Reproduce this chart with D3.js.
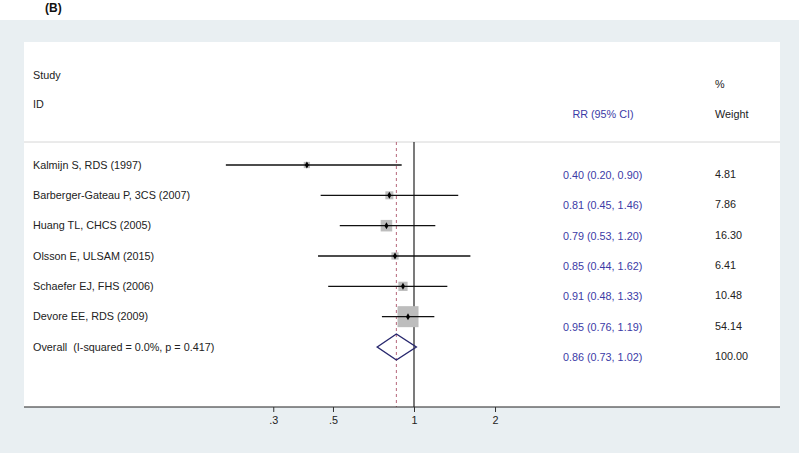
<!DOCTYPE html>
<html><head><meta charset="utf-8">
<script src="https://cdn.jsdelivr.net/npm/d3@7"></script>
<style>body{margin:0;background:#fff}svg{display:block;font-family:"Liberation Sans",Arial,sans-serif}text{white-space:pre}</style>
</head><body><svg id="c" width="799" height="453"></svg>
<script>
const studies = ["Kalmijn S, RDS (1997)","Barberger-Gateau P, 3CS (2007)","Huang TL, CHCS (2005)","Olsson E, ULSAM (2015)","Schaefer EJ, FHS (2006)","Devore EE, RDS (2009)"];
const rr = [0.40,0.81,0.79,0.85,0.91,0.95];
const lower = [0.20,0.45,0.53,0.44,0.48,0.76];
const upper = [0.90,1.46,1.20,1.62,1.33,1.19];
const weights = [4.81,7.86,16.30,6.41,10.48,54.14];
const overallLabel = "Overall  (I-squared = 0.0%, p = 0.417)";
const overall = {rr:0.86, lo:0.73, hi:1.02, w:100.00};
const tickValues = [0.3,0.5,1,2];
const tickLabels = [".3",".5","1","2"];

const svg = d3.select("#c");
svg.append("rect").attr("x",0).attr("y",20).attr("width",799).attr("height",433).attr("fill","#e9eff2");
svg.append("rect").attr("x",24).attr("y",42).attr("width",756).attr("height",365).attr("fill","#ffffff");
svg.append("text").attr("x",45).attr("y",12).attr("font-size",12).attr("font-weight","bold").attr("fill","#111").text("(B)");

const x = d3.scaleLog().domain([1/Math.E, Math.E]).range([414-116.9, 414+116.9]);
const rows = studies.concat([overallLabel]);
const y = d3.scalePoint().domain(d3.range(rows.length)).range([165,347]);

const fs = 10.8;
// headers
svg.append("text").attr("x",33).attr("y",79).attr("font-size",fs).attr("fill","#222").text("Study");
svg.append("text").attr("x",33).attr("y",108).attr("font-size",fs).attr("fill","#222").text("ID");
svg.append("text").attr("x",603).attr("y",118).attr("font-size",fs).attr("text-anchor","middle").attr("fill","#3b3ba6").text("RR (95% CI)");
svg.append("text").attr("x",715).attr("y",88).attr("font-size",fs).attr("fill","#222").text("%");
svg.append("text").attr("x",715).attr("y",118).attr("font-size",fs).attr("fill","#222").text("Weight");
svg.append("line").attr("x1",24).attr("x2",780).attr("y1",142).attr("y2",142).attr("stroke","#d6d6d6").attr("stroke-width",1);

// reference lines
svg.append("line").attr("x1",x(1)).attr("x2",x(1)).attr("y1",142).attr("y2",407).attr("stroke","#222").attr("stroke-width",1.2);
svg.append("line").attr("x1",x(overall.rr)).attr("x2",x(overall.rr)).attr("y1",142).attr("y2",407).attr("stroke","#b5667a").attr("stroke-width",1).attr("stroke-dasharray","3,3");

// labels
rows.forEach((r,i)=>{
  svg.append("text").attr("x",33).attr("y",y(i)+3.5).attr("font-size",fs).attr("fill","#222").text(r);
});
const ciText = rr.map((v,i)=>`${v.toFixed(2)} (${lower[i].toFixed(2)}, ${upper[i].toFixed(2)})`).concat([`${overall.rr.toFixed(2)} (${overall.lo.toFixed(2)}, ${overall.hi.toFixed(2)})`]);
const wText = weights.map(w=>w.toFixed(2)).concat([overall.w.toFixed(2)]);
ciText.forEach((t,i)=>{
  svg.append("text").attr("x",563).attr("y",y(i)+14).attr("font-size",fs).attr("fill","#3b3ba6").text(t);
  svg.append("text").attr("x",715).attr("y",y(i)+13).attr("font-size",fs).attr("fill","#222").text(wText[i]);
});

// boxes
const side = d3.scaleSqrt().domain([0,54.14]).range([0,21]);
studies.forEach((s,i)=>{
  const sz = side(weights[i]);
  svg.append("rect").attr("x",x(rr[i])-sz/2).attr("y",y(i)-sz/2).attr("width",sz).attr("height",sz).attr("fill","#bdbdbd");
});
studies.forEach((s,i)=>{
  svg.append("line").attr("x1",x(lower[i])).attr("x2",x(upper[i])).attr("y1",y(i)).attr("y2",y(i)).attr("stroke","#111").attr("stroke-width",1.3);
  svg.append("path").attr("d",d3.symbol(d3.symbolDiamond,14)()).attr("transform",`translate(${x(rr[i])},${y(i)})`).attr("fill","#000");
});
// diamond
const yo = y(rows.length-1), h=13;
svg.append("path").attr("d",`M${x(overall.lo)},${yo}L${x(overall.rr)},${yo-h}L${x(overall.hi)},${yo}L${x(overall.rr)},${yo+h}Z`).attr("fill","none").attr("stroke","#28286e").attr("stroke-width",1.4);

// axis
svg.append("line").attr("x1",24).attr("x2",780).attr("y1",407).attr("y2",407).attr("stroke","#222").attr("stroke-width",1.2);
const ax = d3.axisBottom(x).tickValues(tickValues).tickFormat((d,i)=>tickLabels[i]).tickSize(5).tickPadding(4);
const g = svg.append("g").attr("transform","translate(0,407)").call(ax);
g.select(".domain").remove();
g.selectAll("line").attr("stroke","#333");
g.selectAll("text").attr("font-size",fs).attr("fill","#222").attr("font-family","Liberation Sans, Arial, sans-serif");
</script></body></html>
